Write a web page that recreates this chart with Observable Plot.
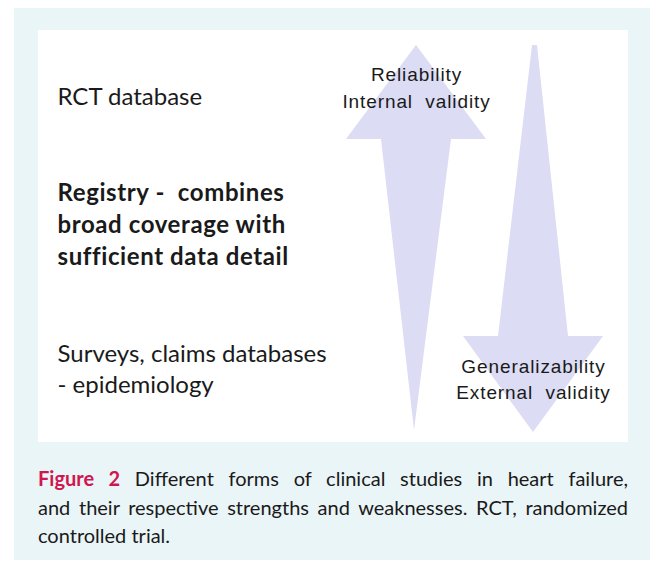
<!DOCTYPE html>
<html>
<head>
<meta charset="utf-8">
<script src="https://cdn.jsdelivr.net/npm/d3@7"></script>
<script src="https://cdn.jsdelivr.net/npm/@observablehq/plot@0.6"></script>
<style>
  html, body { margin: 0; padding: 0; background: #ffffff; }
  #frame {
    position: absolute; left: 14px; top: 8px; width: 636px; height: 552px;
    background: #eaf5f8;
  }
  #chart { position: absolute; left: 24px; top: 22px; }
  #chart svg { display: block; background: #ffffff; }
  #chart g[font-family*="Liberation"] text { letter-spacing: 0.9px; }
  #chart g[font-weight="bold"] text { letter-spacing: 0.6px; }
  #caption {
    position: absolute; left: 24px; top: 456px; width: 590px;
    font-family: Lato, "Open Sans", sans-serif; font-size: 20px; line-height: 28.5px;
    color: #1a1a1a;
  }
  #caption .j { text-align: justify; text-align-last: justify; white-space: nowrap; }
  #caption .fig { color: #d0164f; font-weight: 700; }
</style>
</head>
<body>
<div id="frame">
  <div id="chart"></div>
  <div id="caption"></div>
</div>
<script>
// Caption
const captionLabel = "Figure 2";
const captionLines = [
  "Different forms of clinical studies in heart failure,",
  "and their respective strengths and weaknesses. RCT, randomized",
  "controlled trial."
];

// Left-hand labels (study types), from top to bottom
const studyLabels = [
  "RCT database",
  "Registry -  combines", "broad coverage with", "sufficient data detail",
  "Surveys, claims databases", "- epidemiology"
];
const studyLevels = [97, 193, 225, 257, 354, 385];
const studyBold = [false, true, true, true, false, false];

// Arrow outlines: level (vertical) with left/right extent
const upArrowLevel = [45, 139, 139, 430];
const upArrowLeft  = [416, 346, 381, 414];
const upArrowRight = [416, 486, 451, 414];

const downArrowLevel = [45, 336, 336, 432];
const downArrowLeft  = [532, 498, 463, 533];
const downArrowRight = [537, 568, 603, 533];

// Arrow labels
const upLabels = ["Reliability", "Internal  validity"];
const upLabelLevels = [74, 101];
const downLabels = ["Generalizability", "External  validity"];
const downLabelLevels = [366, 392];

const up = upArrowLevel.map((y, i) => ({y, x1: upArrowLeft[i], x2: upArrowRight[i]}));
const down = downArrowLevel.map((y, i) => ({y, x1: downArrowLeft[i], x2: downArrowRight[i]}));
const study = studyLabels.map((t, i) => ({t, y: studyLevels[i], bold: studyBold[i]}));
const upText = upLabels.map((t, i) => ({t, y: upLabelLevels[i]}));
const downText = downLabels.map((t, i) => ({t, y: downLabelLevels[i]}));

const arrowFill = "#dcdcf5";

const plot = Plot.plot({
  width: 590,
  height: 412,
  margin: 0,
  x: {domain: [38, 628], axis: null},
  y: {domain: [442, 30], axis: null},
  marks: [
    Plot.areaX(up, {y: "y", x1: "x1", x2: "x2", fill: arrowFill, curve: "linear"}),
    Plot.areaX(down, {y: "y", x1: "x1", x2: "x2", fill: arrowFill, curve: "linear"}),
    Plot.text(study.filter(d => !d.bold), {x: () => 57, y: "y", text: "t", textAnchor: "start",
      fontFamily: "Lato, 'Open Sans', sans-serif", fontSize: 24, fill: "#1a1a1a"}),
    Plot.text(study.filter(d => d.bold), {x: () => 57, y: "y", text: "t", textAnchor: "start",
      fontFamily: "Lato, 'Open Sans', sans-serif", fontSize: 24, fontWeight: "bold", fill: "#1a1a1a"}),
    Plot.text(upText, {x: () => 416, y: "y", text: "t", textAnchor: "middle",
      fontFamily: "'Liberation Sans', Arial, sans-serif", fontSize: 19, fill: "#1a1a1a"}),
    Plot.text(downText, {x: () => 533, y: "y", text: "t", textAnchor: "middle",
      fontFamily: "'Liberation Sans', Arial, sans-serif", fontSize: 19, fill: "#1a1a1a"})
  ]
});
document.getElementById("chart").appendChild(plot);

// Build caption lines
const cap = d3.select("#caption");
captionLines.forEach((line, i) => {
  const div = cap.append("div").attr("class", i < captionLines.length - 1 ? "j" : "");
  if (i === 0) {
    div.append("span").attr("class", "fig").text(captionLabel);
    div.append("span").text(" " + line);
  } else {
    div.text(line);
  }
});
</script>
</body>
</html>
